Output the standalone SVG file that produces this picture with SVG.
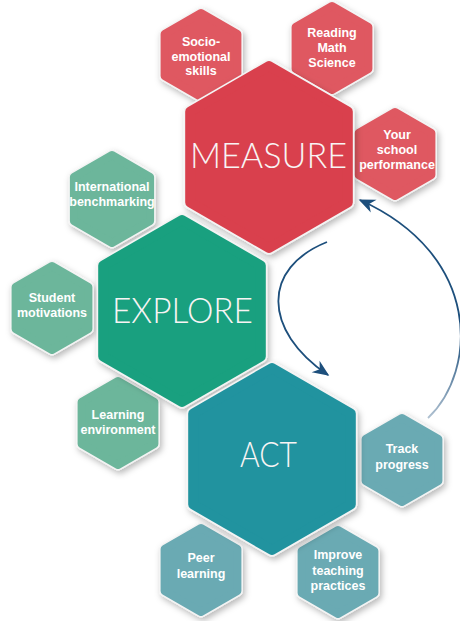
<svg xmlns="http://www.w3.org/2000/svg" width="460" height="621" viewBox="0 0 460 621">
<defs>
<filter id="sh" x="-20%" y="-20%" width="140%" height="140%">
<feDropShadow dx="2" dy="3" stdDeviation="3" flood-color="#000" flood-opacity="0.28"/>
</filter>
<marker id="ah" viewBox="-16 -8 18 16" refX="0" refY="0" markerWidth="18" markerHeight="16" markerUnits="userSpaceOnUse" orient="auto">
<path d="M1.5,0 L-15,-7 L-10,0 L-15,7 Z" fill="#1d4f7c"/>
</marker>
<linearGradient id="fade" gradientUnits="userSpaceOnUse" x1="428" y1="418" x2="450" y2="330">
<stop offset="0" stop-color="#1d4f7c" stop-opacity="0.35"/>
<stop offset="1" stop-color="#1d4f7c" stop-opacity="1"/>
</linearGradient>
</defs>
<style>
.wb{fill:#f4f4f4;stroke:#f4f4f4;stroke-width:13;stroke-linejoin:round;filter:url(#sh)}
.ws{fill:#f4f4f4;stroke:#f4f4f4;stroke-width:11;stroke-linejoin:round;filter:url(#sh)}
.big{stroke-width:10;stroke-linejoin:round}
.sm{stroke-width:8;stroke-linejoin:round}
.rb{fill:#d9404d;stroke:#d9404d}
.rs{fill:#df5861;stroke:#df5861}
.gb{fill:#19a07f;stroke:#19a07f}
.gs{fill:#6cb69b;stroke:#6cb69b}
.tb{fill:#21939f;stroke:#21939f}
.ts{fill:#6aaab3;stroke:#6aaab3}
.lab{font-family:"Liberation Sans",Arial,sans-serif;font-weight:bold;font-size:12.5px;fill:#ffffff;text-anchor:middle}
.tit{font-family:Lato,"Liberation Sans",sans-serif;font-weight:300;font-size:35px;fill:#f8f4f4;text-anchor:middle}
.arc{fill:none;stroke:#1d4f7c;stroke-width:1.8}
</style>

<g id="socio-emotional">
<polygon class="ws" points="201,13 237.4,34 237.4,76 201,97 164.6,76 164.6,34"/>
<polygon class="sm rs" points="201,13 237.4,34 237.4,76 201,97 164.6,76 164.6,34"/>
<text class="lab" x="201" y="46">Socio-</text>
<text class="lab" x="201" y="60.5">emotional</text>
<text class="lab" x="201" y="75">skills</text>
</g>
<g id="reading-math-science">
<polygon class="ws" points="332,6 368.4,27 368.4,69 332,90 295.6,69 295.6,27"/>
<polygon class="sm rs" points="332,6 368.4,27 368.4,69 332,90 295.6,69 295.6,27"/>
<text class="lab" x="332" y="37">Reading</text>
<text class="lab" x="332" y="52">Math</text>
<text class="lab" x="332" y="67">Science</text>
</g>
<g id="your-school-performance">
<polygon class="ws" points="395,112 431.4,133 431.4,175 395,196 358.6,175 358.6,133"/>
<polygon class="sm rs" points="395,112 431.4,133 431.4,175 395,196 358.6,175 358.6,133"/>
<text class="lab" x="397" y="139">Your</text>
<text class="lab" x="397" y="154">school</text>
<text class="lab" x="397" y="169">performance</text>
</g>
<g id="international-benchmarking">
<polygon class="ws" points="112,155 150.1,177 150.1,221 112,243 73.9,221 73.9,177"/>
<polygon class="sm gs" points="112,155 150.1,177 150.1,221 112,243 73.9,221 73.9,177"/>
<text class="lab" x="112" y="191">International</text>
<text class="lab" x="112" y="206">benchmarking</text>
</g>
<g id="student-motivations">
<polygon class="ws" points="52,266 88.4,287 88.4,329 52,350 15.6,329 15.6,287"/>
<polygon class="sm gs" points="52,266 88.4,287 88.4,329 52,350 15.6,329 15.6,287"/>
<text class="lab" x="52" y="302">Student</text>
<text class="lab" x="52" y="317">motivations</text>
</g>
<g id="learning-environment">
<polygon class="ws" points="118,381 154.4,402 154.4,444 118,465 81.6,444 81.6,402"/>
<polygon class="sm gs" points="118,381 154.4,402 154.4,444 118,465 81.6,444 81.6,402"/>
<text class="lab" x="118" y="419">Learning</text>
<text class="lab" x="118" y="433.5">environment</text>
</g>
<g id="track-progress">
<polygon class="ws" points="402,418 438.4,439 438.4,481 402,502 365.6,481 365.6,439"/>
<polygon class="sm ts" points="402,418 438.4,439 438.4,481 402,502 365.6,481 365.6,439"/>
<text class="lab" x="402" y="453">Track</text>
<text class="lab" x="402" y="469">progress</text>
</g>
<g id="peer-learning">
<polygon class="ws" points="201,528 237.4,549 237.4,591 201,612 164.6,591 164.6,549"/>
<polygon class="sm ts" points="201,528 237.4,549 237.4,591 201,612 164.6,591 164.6,549"/>
<text class="lab" x="201" y="562">Peer</text>
<text class="lab" x="201" y="578">learning</text>
</g>
<g id="improve-teaching-practices">
<polygon class="ws" points="338,530 374.4,551 374.4,593 338,614 301.6,593 301.6,551"/>
<polygon class="sm ts" points="338,530 374.4,551 374.4,593 338,614 301.6,593 301.6,551"/>
<text class="lab" x="338" y="559">Improve</text>
<text class="lab" x="338" y="575">teaching</text>
<text class="lab" x="338" y="590">practices</text>
</g>

<g id="measure">
<polygon class="wb" points="269,66 347.8,111.5 347.8,202.5 269,248 190.2,202.5 190.2,111.5"/>
<polygon class="big rb" points="269,66 347.8,111.5 347.8,202.5 269,248 190.2,202.5 190.2,111.5"/>
<text class="tit" x="268.5" y="168" textLength="157" lengthAdjust="spacingAndGlyphs">MEASURE</text>
</g>
<g id="explore">
<polygon class="wb" points="182,220 260.8,265.5 260.8,356.5 182,402 103.2,356.5 103.2,265.5"/>
<polygon class="big gb" points="182,220 260.8,265.5 260.8,356.5 182,402 103.2,356.5 103.2,265.5"/>
<text class="tit" x="182.5" y="323" textLength="141" lengthAdjust="spacingAndGlyphs">EXPLORE</text>
</g>
<g id="act">
<polygon class="wb" points="272,368 350.8,413.5 350.8,504.5 272,550 193.2,504.5 193.2,413.5"/>
<polygon class="big tb" points="272,368 350.8,413.5 350.8,504.5 272,550 193.2,504.5 193.2,413.5"/>
<text class="tit" x="268.5" y="467" textLength="57" lengthAdjust="spacingAndGlyphs">ACT</text>
</g>

<g id="connectors">
<path class="arc" d="M327,242 C262,268 262,330 328,375" marker-end="url(#ah)"/>
<path class="arc" stroke="url(#fade)" style="stroke:url(#fade)" d="M428,418 C478,370 482,255 360,200" marker-end="url(#ah)"/>
</g>
</svg>
